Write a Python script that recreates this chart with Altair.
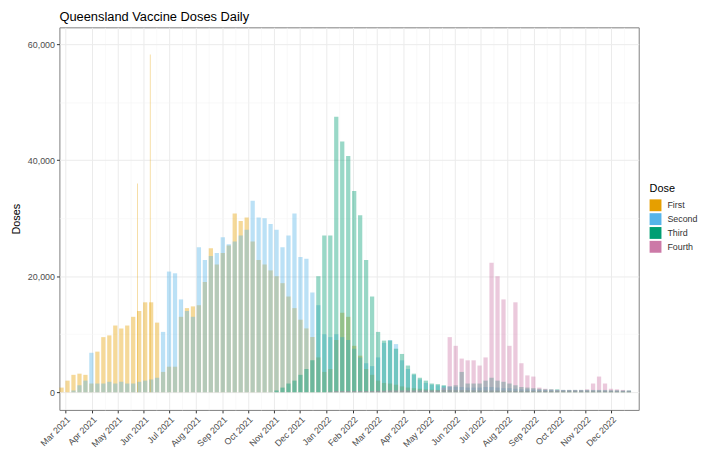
import altair as alt
import pandas as pd

# ---- data (weekly blocks; week i starts 2021-02-22 + 7*i days) ----
week0 = "2021-02-22"
doses = ["First", "Second", "Third", "Fourth"]
colors = ["#E69F00", "#56B4E9", "#009E73", "#CC79A7"]

first = [
    800, 2000, 3000, 3200, 3000, 1500, 7000, 9500, 9800, 11500,
    11000, 11500, 13000, 14000, 15500, 15500, 12000, 3500, 4400, 4400,
    13000, 14500, 14800, 15000, 19000, 24800, 22000, 24000, 25300, 30800,
    29500, 30100, 26000, 22800, 22000, 21000, 20000, 18800, 16500, 14500,
    12500, 11000, 9500, 6000, 3500, 4000, 9000, 13700, 13000, 8000,
    6300, 4000, 3000, 2000, 1600, 1500, 1300, 1000, 800, 700,
    600, 500, 450, 400, 400, 380, 350, 350, 330, 320,
    300, 300, 300, 280, 280, 260, 250, 250, 240, 230,
    220, 220, 210, 200, 200, 200, 190, 180, 180, 170,
    170, 160, 160, 150, 150, 140]

second = [
    0, 0, 300, 1200, 2000, 6800, 1500, 1500, 1800, 1500,
    1800, 1500, 1500, 1800, 2000, 2200, 2500, 10400, 20800, 20500,
    16000, 14000, 13000, 25000, 22800, 23500, 24000, 26700, 25500, 26000,
    27000, 28000, 33000, 30100, 30000, 29000, 28000, 25000, 27000, 30800,
    23300, 23000, 17200, 15000, 10000, 9500, 10000, 9500, 9000, 7500,
    6000, 5000, 4500, 6000, 8500, 9000, 8300, 5500, 4000, 3000,
    2200, 1600, 1300, 1200, 1100, 1000, 900, 900, 800, 800,
    800, 900, 900, 800, 700, 700, 600, 500, 500, 450,
    400, 400, 380, 350, 350, 330, 300, 300, 300, 280,
    280, 260, 250, 250, 240, 230]

third = [0] * 36 + [
    300, 800, 1500, 2000,
    3000, 4000, 5500, 20000, 27000, 27000, 47500, 43200, 40700, 34700,
    30500, 22800, 16500, 10400, 8900, 8900, 7500, 6600, 4600, 3200,
    2500, 2000, 1500, 1400, 1200, 1000, 1200, 3500, 1500, 1500,
    1500, 2000, 2500, 2000, 1800, 1500, 1200, 900, 800, 700,
    600, 500, 500, 500, 400, 400, 400, 400, 400, 400,
    400, 400, 350, 350, 300, 300]

fourth = [0] * 45 + [
    100, 200, 200, 200, 200,
    200, 200, 200, 250, 250, 300, 300, 300, 300, 300,
    300, 300, 300, 300,
    800, 9500, 8000, 5800, 5500, 5500,
    4600, 6000, 22300, 20000, 16000, 8000, 15500, 5000, 2900, 2700,
    800, 600, 500, 400, 400, 400, 400, 400, 500, 1500,
    2700, 1500, 600, 500, 400, 300]

# single-day spikes
spike_dates = ["2021-05-24", "2021-06-08"]
spike_doses = ["First", "First"]
spike_values = [36000, 58200]

# axis tick labels
month_starts = pd.date_range("2021-03-01", "2022-12-01", freq="MS")
minor_marks = pd.date_range("2021-03-16", "2022-12-16", freq="MS") + pd.Timedelta(days=15)
y_values = [0, 10000, 20000, 30000, 40000, 50000, 60000]

# ---- build table ----
rows = []
t0 = pd.Timestamp(week0)
for name, vals in zip(doses, [first, second, third, fourth]):
    assert len(vals) == 96
    for i, v in enumerate(vals):
        if v > 0:
            s = t0 + pd.Timedelta(days=7 * i)
            e = s + pd.Timedelta(days=5)
            rows.append({"start": s.strftime("%Y-%m-%d"), "end": e.strftime("%Y-%m-%d"),
                         "dose": name, "doses": v})
for d, n, v in zip(spike_dates, spike_doses, spike_values):
    s = pd.Timestamp(d)
    rows.append({"start": s.strftime("%Y-%m-%d"),
                 "end": (s + pd.Timedelta(days=1)).strftime("%Y-%m-%d"),
                 "dose": n, "doses": v})
df = pd.DataFrame(rows)


def dt(ts):
    return alt.DateTime(year=ts.year, month=ts.month, date=ts.day, utc=True)


x_vals = [dt(t) for t in month_starts] + [dt(t) for t in minor_marks]
major_x = "utcdate(datum.value) == 1"
major_y = "datum.value % 20000 == 0"

FONT = "Liberation Sans"

chart = alt.Chart(df).mark_bar(opacity=0.4, strokeWidth=0).encode(
    x=alt.X("start:T",
            scale=alt.Scale(type="utc",
                            domain=[alt.DateTime(year=2021, month=2, date=22, utc=True),
                                    alt.DateTime(year=2023, month=1, date=2, utc=True)]),
            axis=alt.Axis(values=x_vals, title=None,
                          labelExpr=major_x + " ? utcFormat(datum.value, '%b %Y') : ''",
                          labelAngle=-45, labelAlign="right", labelBaseline="top",
                          labelFontSize=9, labelColor="#4d4d4d", labelPadding=2,
                          labelOverlap=False, labelFont=FONT,
                          tickSize=3, tickColor="#333333",
                          tickOpacity={"condition": {"test": major_x, "value": 1}, "value": 0},
                          grid=True,
                          gridColor={"condition": {"test": major_x, "value": "#ebebeb"}, "value": "#f4f4f4"},
                          gridWidth={"condition": {"test": major_x, "value": 1}, "value": 0.6},
                          domain=False)),
    x2="end:T",
    y=alt.Y("doses:Q", stack=None,
            scale=alt.Scale(domain=[-3050, 62900], nice=False, zero=False),
            axis=alt.Axis(values=y_values, title="Doses",
                          labelExpr=major_y + " ? format(datum.value, ',') : ''",
                          labelFontSize=9, labelColor="#4d4d4d", labelPadding=2, labelFont=FONT,
                          tickSize=3, tickColor="#333333",
                          tickOpacity={"condition": {"test": major_y, "value": 1}, "value": 0},
                          grid=True,
                          gridColor={"condition": {"test": major_y, "value": "#ebebeb"}, "value": "#f4f4f4"},
                          gridWidth={"condition": {"test": major_y, "value": 1}, "value": 0.6},
                          domain=False,
                          titleFontSize=11, titleFontWeight="normal", titleColor="#000000",
                          titleFont=FONT, titlePadding=6)),
    y2=alt.datum(0),
    color=alt.Color("dose:N",
                    scale=alt.Scale(domain=doses, range=colors),
                    legend=alt.Legend(title="Dose", orient="none", legendX=597, legendY=158,
                                      symbolType="square", symbolSize=144, symbolOpacity=1,
                                      symbolStrokeWidth=0, labelFontSize=9, labelFont=FONT,
                                      labelColor="#333333",
                                      titleFontSize=11, titleFontWeight="normal", titleFont=FONT,
                                      titleColor="#000000",
                                      rowPadding=2, labelOffset=6, titlePadding=5)),
).properties(
    width=586, height=387,
    title=alt.Title("Queensland Vaccine Doses Daily", anchor="start", frame="group",
                    fontSize=13, fontWeight="normal", color="#000000", offset=3, font=FONT),
    padding={"left": 52, "top": 17, "right": 63, "bottom": 40},
    autosize="none",
).configure_view(stroke="#7f7f7f", strokeWidth=1)

chart.save("out.html", embed_options={"renderer": "svg", "actions": False})
